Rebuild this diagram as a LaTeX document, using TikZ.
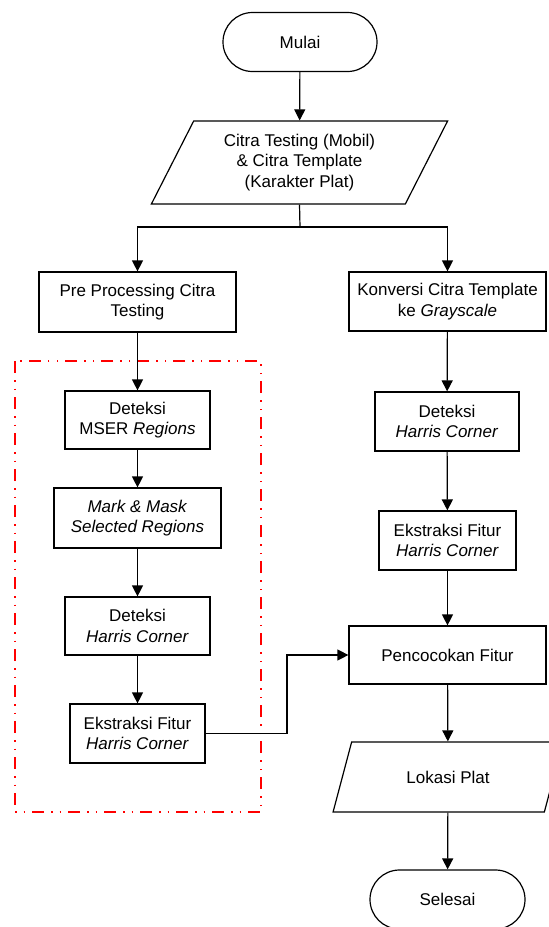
\documentclass[tikz,border=0pt]{standalone}
\usepackage{fontspec}
\setmainfont{Liberation Sans}
\usepackage{xcolor}
\usetikzlibrary{shapes.geometric,shapes.misc,arrows.meta}
\definecolor{ink}{HTML}{000000}
\definecolor{grpred}{HTML}{FF0000}
\tikzset{
  every node/.style={font=\fontsize{17}{20.5}\selectfont, align=center, inner sep=2pt},
  proc/.style={draw=ink, rectangle, line width=1.2pt, fill=white},
  term/.style={draw=ink, rounded rectangle, line width=1.2pt, minimum width=158pt, minimum height=59pt},
  io/.style={draw=ink, trapezium, trapezium left angle=63, trapezium right angle=117,
    trapezium stretches=true, line width=1.2pt},
  arr/.style={draw=ink, line width=1.2pt, -{Triangle[length=11pt,width=11pt]}},
  lnk/.style={draw=ink, line width=1.2pt},
  grp/.style={draw=grpred, line width=1.3pt,
    dash pattern=on 12pt off 7pt on 1.5pt off 7pt on 1.5pt off 7pt}
}
\begin{document}
\begin{tikzpicture}[x=1pt,y=-1pt]
  \useasboundingbox (0,0) rectangle (549,927);

  % group of the testing branch
  \draw[grp] (15,361) rectangle (261,812);

  \node[term] (mulai) at (300,42) {Mulai};
  \node[io, minimum width=297pt, minimum height=83pt] (input) at (299.5,162.5)
    {Citra Testing (Mobil)\\ \& Citra Template\\ (Karakter Plat)};

  % left column
  \node[proc, minimum width=197pt, minimum height=60pt] (pre) at (137.5,302)
    {Pre Processing Citra\\ Testing};
  \node[proc, minimum width=145pt, minimum height=58pt] (mser) at (137.5,420)
    {Deteksi\\ MSER \textit{Regions}};
  \node[proc, minimum width=167pt, minimum height=60pt] (mark) at (137.5,518)
    {\textit{Mark \& Mask}\\ \textit{Selected Regions}};
  \node[proc, minimum width=145pt, minimum height=58pt] (harrisL) at (137.5,626)
    {Deteksi\\ \textit{Harris Corner}};
  \node[proc, minimum width=135pt, minimum height=59pt] (ekstrL) at (137.5,733.5)
    {Ekstraksi Fitur\\ \textit{Harris Corner}};

  % right column
  \node[proc, minimum width=197pt, minimum height=59pt] (konv) at (447.5,301.5)
    {Konversi Citra Template\\ ke \textit{Grayscale}};
  \node[proc, minimum width=144pt, minimum height=59pt] (harrisR) at (447,421.5)
    {Deteksi\\ \textit{Harris Corner}};
  \node[proc, minimum width=137pt, minimum height=59pt] (ekstrR) at (447.5,540.5)
    {Ekstraksi Fitur\\ \textit{Harris Corner}};
  \node[proc, minimum width=197pt, minimum height=58pt] (cocok) at (447.5,655)
    {Pencocokan Fitur};
  \node[io, minimum width=230pt, minimum height=70pt] (lokasi) at (448,777)
    {Lokasi Plat};
  \node[term, minimum width=159pt] (selesai) at (447.5,899.5) {Selesai};

  \coordinate (split) at (300,227);
  \coordinate (jog) at (287,733.5);

  \draw[arr] (mulai) -- (input);
  \draw[lnk] (input.south) -- (split);
  \draw[arr] (split) -| (pre.north);
  \draw[arr] (split) -| (konv.north);

  \draw[arr] (pre) -- (mser);
  \draw[arr] (mser) -- (mark);
  \draw[arr] (mark) -- (harrisL);
  \draw[arr] (harrisL) -- (ekstrL);

  \draw[arr] (konv) -- (harrisR);
  \draw[arr] (harrisR) -- (ekstrR);
  \draw[arr] (ekstrR) -- (cocok);
  \draw[arr] (ekstrL.east) -- (jog) |- (cocok.west);
  \draw[arr] (cocok) -- (lokasi);
  \draw[arr] (lokasi) -- (selesai);
\end{tikzpicture}
\end{document}
